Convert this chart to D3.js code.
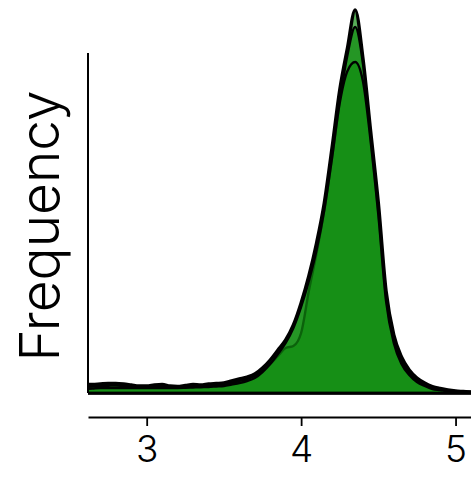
<!DOCTYPE html>
<html>
<head>
<meta charset="utf-8">
<script src="https://cdn.jsdelivr.net/npm/d3@7"></script>
<style>
  html, body { margin: 0; padding: 0; background: #fff; }
  svg { display: block; }
</style>
</head>
<body>
<svg id="chart" width="471" height="483"></svg>
<script>
// Evaluation grid for the density estimates
const grid = d3.range(51).map(i => +(2.6 + i * 0.05).toFixed(2));

// Density estimates for three samples (arbitrary units)
const densityA = [0.085,0.085,0.09,0.095,0.095,0.09,0.08,0.07,0.07,0.08,0.085,0.07,0.065,0.075,0.085,0.08,0.09,0.095,0.10,0.12,0.14,0.16,0.19,0.25,0.33,0.43,0.53,0.68,0.90,1.17,1.50,1.90,2.45,3.03,3.45,3.83,3.35,2.62,1.90,1.02,0.58,0.36,0.23,0.15,0.10,0.065,0.045,0.03,0.02,0.015,0.01];
const densityB = [0.06,0.065,0.07,0.072,0.075,0.07,0.065,0.06,0.06,0.062,0.065,0.062,0.06,0.062,0.065,0.068,0.07,0.075,0.08,0.10,0.12,0.14,0.17,0.22,0.29,0.37,0.45,0.47,0.60,1.02,1.40,1.83,2.35,2.92,3.38,3.66,3.30,2.55,1.80,0.95,0.53,0.32,0.20,0.13,0.085,0.05,0.035,0.025,0.018,0.013,0.01];
const densityC = [0.04,0.045,0.05,0.05,0.05,0.05,0.05,0.05,0.05,0.05,0.05,0.05,0.05,0.052,0.055,0.058,0.06,0.065,0.07,0.085,0.10,0.12,0.15,0.21,0.29,0.39,0.50,0.65,0.86,1.12,1.43,1.83,2.35,2.90,3.22,3.31,3.12,2.52,1.78,0.92,0.50,0.29,0.18,0.11,0.07,0.04,0.03,0.02,0.015,0.012,0.01];

const series = [densityA, densityB, densityC];
const xTicks = [3, 4, 5];
const yLabel = "Frequency";

const svg = d3.select("#chart");

const x = d3.scaleLinear().domain([2.62, 5.1]).range([88, 471]);
const y = d3.scaleLinear().domain([0, 3.4]).range([393, 53]);

svg.append("clipPath").attr("id", "plot-clip")
  .append("rect").attr("x", 88).attr("y", 0).attr("width", 383).attr("height", 400);

const area = d3.area()
  .x((d, i) => x(grid[i]))
  .y0(y(0))
  .y1(d => y(d))
  .curve(d3.curveMonotoneX);

const layers = svg.append("g").attr("clip-path", "url(#plot-clip)");

layers.selectAll("path.density")
  .data(series)
  .join("path")
  .attr("class", "density")
  .attr("d", d => area(d) + "Z")
  .attr("fill", "rgb(15,140,15)")
  .attr("fill-opacity", 0.7)
  .attr("stroke", "#000")
  .attr("stroke-width", (d, i) => i === 0 ? 3.4 : 2.4)
  .attr("stroke-linejoin", "round");

// Y axis: a bare line, no ticks
svg.append("line")
  .attr("x1", 88).attr("x2", 88)
  .attr("y1", y.range()[1]).attr("y2", y.range()[0])
  .attr("stroke", "#000").attr("stroke-width", 2);

const labelFont = "Inter, 'Liberation Sans', Arial, sans-serif";

// X axis, offset below the baseline
const xAxis = svg.append("g")
  .attr("transform", "translate(0,417)")
  .call(d3.axisBottom(x).tickValues(xTicks).tickFormat(d3.format("d")).tickSize(9).tickSizeOuter(0).tickPadding(10));
xAxis.select(".domain").attr("stroke-width", 1.8);
xAxis.selectAll(".tick line").attr("stroke-width", 1.8);
xAxis.selectAll(".tick text")
  .attr("font-family", labelFont)
  .attr("font-weight", 300)
  .attr("font-size", 37)
  .attr("fill", "#000");

svg.append("text")
  .attr("transform", "translate(59,226) rotate(-90)")
  .attr("text-anchor", "middle")
  .attr("font-family", labelFont)
  .attr("font-weight", 300)
  .attr("font-size", 55)
  .attr("fill", "#000")
  .text(yLabel);
</script>
</body>
</html>
